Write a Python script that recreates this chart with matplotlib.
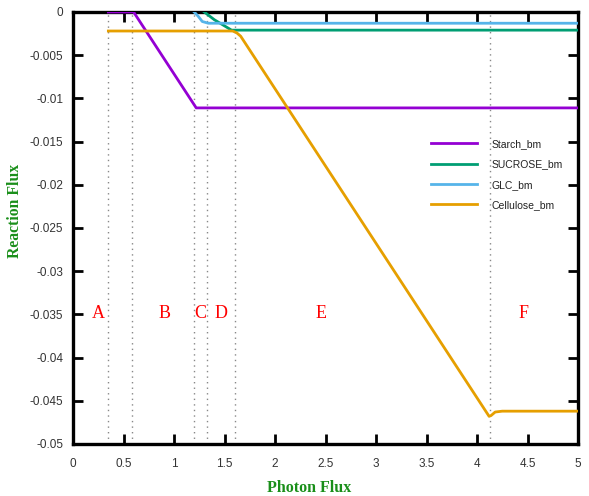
import matplotlib
matplotlib.use("Agg")
import matplotlib.pyplot as plt

# ---- data ----
starch_x = [0.35, 0.60, 1.22, 5.0]
starch_y = [0.0, 0.0, -0.0111, -0.0111]

sucrose_x = [1.30, 1.40, 1.57, 5.0]
sucrose_y = [0.0, -0.0009, -0.0021, -0.0021]

glc_x = [1.20, 1.24, 1.28, 1.34, 5.0]
glc_y = [0.0, -0.0005, -0.0011, -0.0013, -0.0013]

cell_x = [0.35, 1.58, 1.62, 1.66, 4.12, 4.14, 4.18, 4.25, 5.0]
cell_y = [-0.0022, -0.0022, -0.0024, -0.0028, -0.0468, -0.0467, -0.0463, -0.0462, -0.0462]

boundaries = [0.35, 0.58, 1.20, 1.33, 1.60, 4.13]
region_labels = ["A", "B", "C", "D", "E", "F"]
region_label_x = [0.25, 0.91, 1.26, 1.47, 2.46, 4.46]
region_label_y = -0.0349

series_names = ["Starch_bm", "SUCROSE_bm", "GLC_bm", "Cellulose_bm"]
series_colors = ["#9400d3", "#009e73", "#56b4e9", "#e69f00"]

x_ticks = [0, 0.5, 1, 1.5, 2, 2.5, 3, 3.5, 4, 4.5, 5]
x_tick_labels = ["0", "0.5", "1", "1.5", "2", "2.5", "3", "3.5", "4", "4.5", "5"]
y_ticks = [0, -0.005, -0.01, -0.015, -0.02, -0.025, -0.03, -0.035, -0.04, -0.045, -0.05]
y_tick_labels = ["0", "-0.005", "-0.01", "-0.015", "-0.02", "-0.025", "-0.03", "-0.035", "-0.04", "-0.045", "-0.05"]

# ---- figure ----
fig = plt.figure(figsize=(5.89, 4.96), dpi=100)
ax = fig.add_axes([73/589, 52/496, (578-73)/589, (444-12)/496])

for b in boundaries:
    ax.axvline(b, color="#888888", linestyle=(0, (1, 3)), linewidth=1.0, zorder=1)

xs = [starch_x, sucrose_x, glc_x, cell_x]
ys = [starch_y, sucrose_y, glc_y, cell_y]
for x, y, name, c in zip(xs, ys, series_names, series_colors):
    ax.plot(x, y, color=c, linewidth=2.0, label=name, zorder=3, solid_joinstyle="round")

for lab, lx in zip(region_labels, region_label_x):
    ax.text(lx, region_label_y, lab, color="red", fontsize=13, family="Liberation Serif",
            ha="center", va="center")

ax.set_xlim(0, 5)
ax.set_ylim(-0.05, 0)
ax.set_xticks(x_ticks)
ax.set_xticklabels(x_tick_labels, family="Liberation Sans")
ax.set_yticks(y_ticks)
ax.set_yticklabels(y_tick_labels, family="Liberation Sans")
ax.tick_params(direction="in", length=7, width=2, top=True, right=True,
               labelsize=8.5, labelcolor="#333333", pad=10)
ax.tick_params(axis="y", pad=7)
for s in ax.spines.values():
    s.set_linewidth(2.4)

leg = ax.legend(loc="upper left", bbox_to_anchor=(0.70, 0.716), frameon=False,
                prop={"family": "Liberation Sans", "size": 7.5},
                handlelength=4.4, handletextpad=1.4, labelspacing=1.0,
                borderaxespad=0)
for t in leg.get_texts():
    t.set_color("#222222")

fig.text(15/589, 1 - 211/496, "Reaction Flux", rotation=90, color="#1a8f1a",
         fontsize=11.3, fontweight="bold", family="Liberation Serif", ha="center", va="center")
fig.text(309/589, 1 - 488/496, "Photon Flux", color="#1a8f1a",
         fontsize=11.5, fontweight="bold", family="Liberation Serif", ha="center", va="center")

fig.savefig("out.png", dpi=100)
